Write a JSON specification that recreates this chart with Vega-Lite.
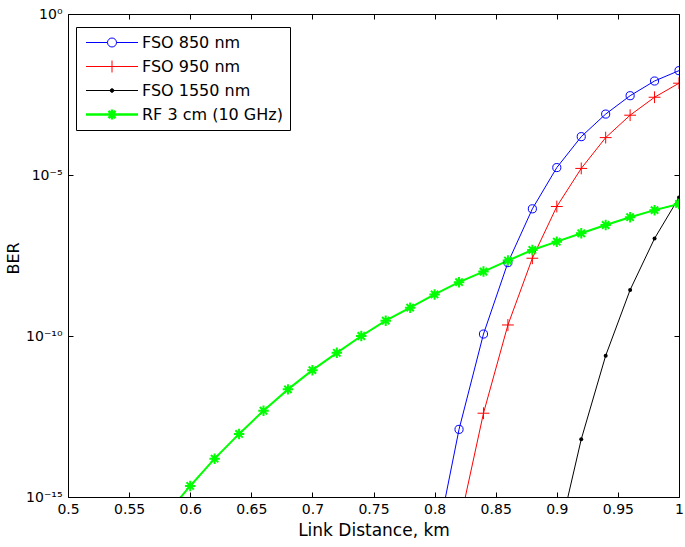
{
  "$schema": "https://vega.github.io/schema/vega-lite/v6.json",
  "width": 611,
  "height": 483,
  "autosize": {"type": "none"},
  "padding": {"left": 68, "top": 14, "right": 6, "bottom": 50},
  "background": "white",
  "config": {
    "view": {"stroke": null},
    "font": "DejaVu Sans",
    "axis": {
      "grid": false,
      "domainColor": "black",
      "tickColor": "black",
      "labelColor": "black",
      "titleColor": "black",
      "labelFont": "DejaVu Sans",
      "titleFont": "DejaVu Sans",
      "labelFontSize": 14,
      "titleFontWeight": "normal",
      "labelOverlap": false,
      "labelFlush": false,
      "tickSize": -5,
      "domainWidth": 1,
      "tickWidth": 1
    }
  },
  "data": {
    "values": [
      {"series": "FSO 850 nm", "distance": 0.80, "ber": 2.0e-17},
      {"series": "FSO 850 nm", "distance": 0.82, "ber": 1.26e-13},
      {"series": "FSO 850 nm", "distance": 0.84, "ber": 1.15e-10},
      {"series": "FSO 850 nm", "distance": 0.86, "ber": 1.9e-8},
      {"series": "FSO 850 nm", "distance": 0.88, "ber": 8.9e-7},
      {"series": "FSO 850 nm", "distance": 0.90, "ber": 1.7e-5},
      {"series": "FSO 850 nm", "distance": 0.92, "ber": 1.55e-4},
      {"series": "FSO 850 nm", "distance": 0.94, "ber": 7.8e-4},
      {"series": "FSO 850 nm", "distance": 0.96, "ber": 2.9e-3},
      {"series": "FSO 850 nm", "distance": 0.98, "ber": 8.3e-3},
      {"series": "FSO 850 nm", "distance": 1.00, "ber": 1.74e-2},
      {"series": "FSO 950 nm", "distance": 0.82, "ber": 1.26e-16},
      {"series": "FSO 950 nm", "distance": 0.84, "ber": 4.0e-13},
      {"series": "FSO 950 nm", "distance": 0.86, "ber": 2.2e-10},
      {"series": "FSO 950 nm", "distance": 0.88, "ber": 2.6e-8},
      {"series": "FSO 950 nm", "distance": 0.90, "ber": 1.05e-6},
      {"series": "FSO 950 nm", "distance": 0.92, "ber": 1.6e-5},
      {"series": "FSO 950 nm", "distance": 0.94, "ber": 1.45e-4},
      {"series": "FSO 950 nm", "distance": 0.96, "ber": 7.2e-4},
      {"series": "FSO 950 nm", "distance": 0.98, "ber": 2.6e-3},
      {"series": "FSO 950 nm", "distance": 1.00, "ber": 7.1e-3},
      {"series": "FSO 1550 nm", "distance": 0.90, "ber": 3.2e-17},
      {"series": "FSO 1550 nm", "distance": 0.92, "ber": 6.2e-14},
      {"series": "FSO 1550 nm", "distance": 0.94, "ber": 2.45e-11},
      {"series": "FSO 1550 nm", "distance": 0.96, "ber": 2.7e-9},
      {"series": "FSO 1550 nm", "distance": 0.98, "ber": 1.07e-7},
      {"series": "FSO 1550 nm", "distance": 1.00, "ber": 2.0e-6},
      {"series": "RF 3 cm (10 GHz)", "distance": 0.58, "ber": 2.8e-16},
      {"series": "RF 3 cm (10 GHz)", "distance": 0.60, "ber": 2.2e-15},
      {"series": "RF 3 cm (10 GHz)", "distance": 0.62, "ber": 1.55e-14},
      {"series": "RF 3 cm (10 GHz)", "distance": 0.64, "ber": 9.1e-14},
      {"series": "RF 3 cm (10 GHz)", "distance": 0.66, "ber": 4.8e-13},
      {"series": "RF 3 cm (10 GHz)", "distance": 0.68, "ber": 2.2e-12},
      {"series": "RF 3 cm (10 GHz)", "distance": 0.70, "ber": 8.7e-12},
      {"series": "RF 3 cm (10 GHz)", "distance": 0.72, "ber": 3.0e-11},
      {"series": "RF 3 cm (10 GHz)", "distance": 0.74, "ber": 1.0e-10},
      {"series": "RF 3 cm (10 GHz)", "distance": 0.76, "ber": 3.0e-10},
      {"series": "RF 3 cm (10 GHz)", "distance": 0.78, "ber": 7.6e-10},
      {"series": "RF 3 cm (10 GHz)", "distance": 0.80, "ber": 1.95e-9},
      {"series": "RF 3 cm (10 GHz)", "distance": 0.82, "ber": 4.7e-9},
      {"series": "RF 3 cm (10 GHz)", "distance": 0.84, "ber": 1.0e-8},
      {"series": "RF 3 cm (10 GHz)", "distance": 0.86, "ber": 2.2e-8},
      {"series": "RF 3 cm (10 GHz)", "distance": 0.88, "ber": 4.7e-8},
      {"series": "RF 3 cm (10 GHz)", "distance": 0.90, "ber": 8.5e-8},
      {"series": "RF 3 cm (10 GHz)", "distance": 0.92, "ber": 1.55e-7},
      {"series": "RF 3 cm (10 GHz)", "distance": 0.94, "ber": 2.8e-7},
      {"series": "RF 3 cm (10 GHz)", "distance": 0.96, "ber": 4.9e-7},
      {"series": "RF 3 cm (10 GHz)", "distance": 0.98, "ber": 8.1e-7},
      {"series": "RF 3 cm (10 GHz)", "distance": 1.00, "ber": 1.26e-6}
    ]
  },
  "layer": [
    {
      "mark": {"type": "line", "clip": true, "strokeWidth": 1},
      "encoding": {
        "x": {
          "field": "distance", "type": "quantitative",
          "scale": {"domain": [0.5, 1], "nice": false, "zero": false},
          "axis": {
            "orient": "bottom",
            "values": [0.5, 0.55, 0.6, 0.65, 0.7, 0.75, 0.8, 0.85, 0.9, 0.95, 1],
            "format": "~g",
            "labelPadding": 10,
            "title": "Link Distance, km",
            "titleFontSize": 17,
            "titleBaseline": "alphabetic",
            "titleY": 38
          }
        },
        "y": {
          "field": "ber", "type": "quantitative",
          "scale": {"type": "log", "domain": [1e-15, 1], "nice": false},
          "axis": {
            "orient": "left",
            "values": [1e-15, 1e-10, 1e-5, 1],
            "labelExpr": "datum.value >= 0.5 ? '10⁰' : datum.value >= 5e-6 ? '10⁻⁵' : datum.value >= 5e-11 ? '10⁻¹⁰' : '10⁻¹⁵'",
            "labelPadding": 11,
            "title": "BER",
            "titleFontSize": 16,
            "titleX": -55,
            "titleY": 244,
            "titleAngle": -90,
            "titleBaseline": "middle",
            "titleAlign": "center"
          }
        },
        "color": {
          "field": "series", "type": "nominal",
          "scale": {
            "domain": ["FSO 850 nm", "FSO 950 nm", "FSO 1550 nm", "RF 3 cm (10 GHz)"],
            "range": ["#0000ff", "#ff0000", "#000000", "#00ff00"]
          },
          "legend": {
            "orient": "none",
            "legendX": 8,
            "legendY": 13,
            "title": null,
            "strokeColor": "black",
            "fillColor": "white",
            "padding": 7,
            "labelFont": "DejaVu Sans",
            "labelFontSize": 16,
            "labelColor": "black",
            "labelOffset": 22,
            "symbolOffset": 21,
            "clipHeight": 17,
            "rowPadding": 7,
            "encode": {
              "symbols": {
                "update": {
                  "shape": {"signal": "datum.value === 'FSO 850 nm' ? 'M-1,0L-0.173,0M0.173,0L1,0M0.173,0A0.173,0.173,0,1,1,-0.173,0A0.173,0.173,0,1,1,0.173,0' : datum.value === 'FSO 950 nm' ? 'M-1,0L1,0M0,-0.23L0,0.23' : datum.value === 'FSO 1550 nm' ? 'M-1,0L1,0M0.07,0A0.07,0.07,0,1,1,-0.07,0A0.07,0.07,0,1,1,0.07,0' : 'M-1,0L1,0M0,-0.19L0,0.19M-0.135,-0.135L0.135,0.135M-0.135,0.135L0.135,-0.135'"},
                  "size": {"value": 2704},
                  "strokeWidth": {"signal": "datum.value === 'RF 3 cm (10 GHz)' ? 2.5 : 1"},
                  "fill": {"signal": "datum.value === 'FSO 1550 nm' ? 'black' : 'transparent'"},
                  "opacity": {"value": 1}
                }
              }
            }
          }
        }
      }
    },
    {
      "transform": [{"filter": "datum.series === 'RF 3 cm (10 GHz)'"}],
      "mark": {"type": "line", "clip": true, "strokeWidth": 2, "color": "#00ff00"},
      "encoding": {
        "x": {"field": "distance", "type": "quantitative", "axis": null},
        "y": {"field": "ber", "type": "quantitative", "axis": null}
      }
    },
    {
      "transform": [{"filter": "datum.series === 'FSO 850 nm'"}],
      "mark": {"type": "point", "clip": true, "filled": false, "opacity": 1, "shape": "circle", "size": 66, "strokeWidth": 1, "color": "#0000ff"},
      "encoding": {
        "x": {"field": "distance", "type": "quantitative", "axis": null},
        "y": {"field": "ber", "type": "quantitative", "axis": null}
      }
    },
    {
      "transform": [{"filter": "datum.series === 'FSO 950 nm'"}],
      "mark": {"type": "point", "clip": true, "filled": false, "opacity": 1, "shape": "M-1,0L1,0M0,-1L0,1", "size": 140, "strokeWidth": 1, "color": "#ff0000"},
      "encoding": {
        "x": {"field": "distance", "type": "quantitative", "axis": null},
        "y": {"field": "ber", "type": "quantitative", "axis": null}
      }
    },
    {
      "transform": [{"filter": "datum.series === 'FSO 1550 nm'"}],
      "mark": {"type": "point", "clip": true, "filled": true, "opacity": 1, "shape": "circle", "size": 16, "color": "#000000"},
      "encoding": {
        "x": {"field": "distance", "type": "quantitative", "axis": null},
        "y": {"field": "ber", "type": "quantitative", "axis": null}
      }
    },
    {
      "transform": [{"filter": "datum.series === 'RF 3 cm (10 GHz)'"}],
      "mark": {"type": "point", "clip": true, "filled": false, "opacity": 1, "shape": "M-1,0L1,0M0,-1L0,1M-0.7,-0.7L0.7,0.7M-0.7,0.7L0.7,-0.7", "size": 110, "strokeWidth": 2, "color": "#00ff00"},
      "encoding": {
        "x": {"field": "distance", "type": "quantitative", "axis": null},
        "y": {"field": "ber", "type": "quantitative", "axis": null}
      }
    },
    {
      "mark": {"type": "line", "clip": true, "opacity": 0},
      "encoding": {
        "x": {
          "field": "distance", "type": "quantitative",
          "axis": {
            "orient": "top",
            "values": [0.5, 0.55, 0.6, 0.65, 0.7, 0.75, 0.8, 0.85, 0.9, 0.95, 1],
            "labels": false,
            "title": null
          }
        },
        "y": {
          "field": "ber", "type": "quantitative",
          "axis": {
            "orient": "right",
            "values": [1e-15, 1e-10, 1e-5, 1],
            "labels": false,
            "title": null
          }
        }
      }
    }
  ],
  "resolve": {
    "axis": {"x": "independent", "y": "independent"}
  }
}
